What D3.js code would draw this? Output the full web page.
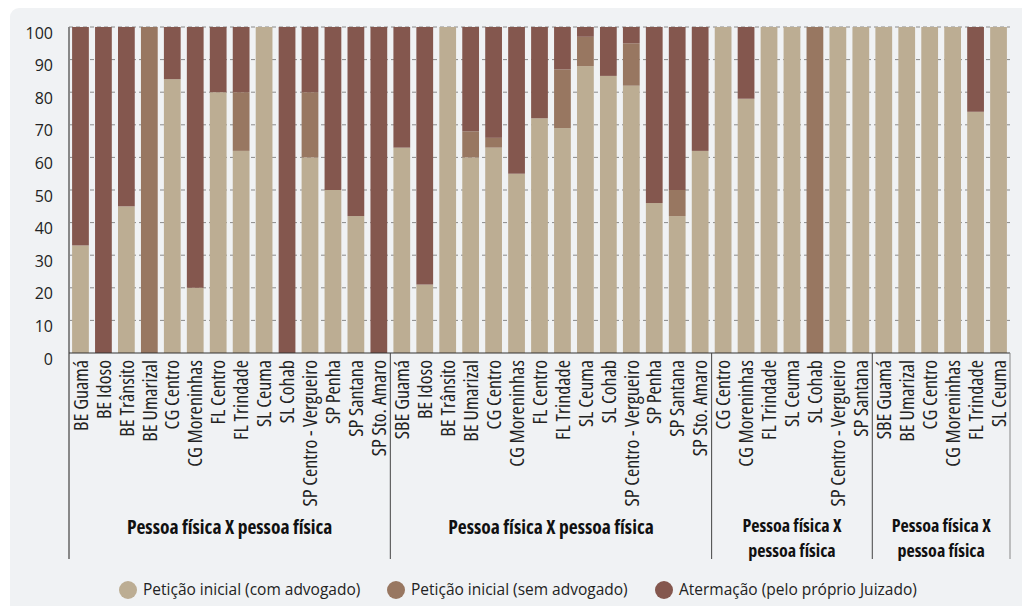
<!DOCTYPE html>
<html>
<head>
<meta charset="utf-8">
<script src="https://cdn.jsdelivr.net/npm/d3@7"></script>
<style>
  html, body { margin: 0; padding: 0; background: #ffffff; }
  svg { display: block; }
  .cond { font-family: "Open Sans", "Noto Sans", sans-serif; font-stretch: condensed; }
</style>
</head>
<body>
<svg id="chart" width="1022" height="606"></svg>
<script>
// ---- data ----
const groupLines = [
  ["Pessoa física X pessoa física"],
  ["Pessoa física X pessoa física"],
  ["Pessoa física X", "pessoa física"],
  ["Pessoa física X", "pessoa física"]
];
const group1 = ["BE Guamá","BE Idoso","BE Trânsito","BE Umarizal","CG Centro","CG Moreninhas","FL Centro","FL Trindade","SL Ceuma","SL Cohab","SP Centro - Vergueiro","SP Penha","SP Santana","SP Sto. Amaro"];
const group2 = ["SBE Guamá","BE Idoso","BE Trânsito","BE Umarizal","CG Centro","CG Moreninhas","FL Centro","FL Trindade","SL Ceuma","SL Cohab","SP Centro - Vergueiro","SP Penha","SP Santana","SP Sto. Amaro"];
const group3 = ["CG Centro","CG Moreninhas","FL Trindade","SL Ceuma","SL Cohab","SP Centro - Vergueiro","SP Santana"];
const group4 = ["SBE Guamá","BE Umarizal","CG Centro","CG Moreninhas","FL Trindade","SL Ceuma"];

const comAdvogado = [33,0,45,0,84,20,80,62,100,0,60,50,42,0,
                     63,21,100,60,63,55,72,69,88,85,82,46,42,62,
                     100,78,100,100,0,100,100,
                     100,100,100,100,74,100];
const semAdvogado = [0,0,0,100,0,0,0,18,0,0,20,0,0,0,
                     0,0,0,8,3,0,0,18,9,0,13,0,8,0,
                     0,0,0,0,100,0,0,
                     0,0,0,0,0,0];
const atermacao   = [67,100,55,0,16,80,20,20,0,100,20,50,58,100,
                     37,79,0,32,34,45,28,13,3,15,5,54,50,38,
                     0,22,0,0,0,0,0,
                     0,0,0,0,26,0];
const seriesNames = ["Petição inicial (com advogado)","Petição inicial (sem advogado)","Atermação (pelo próprio Juizado)"];
const seriesColors = ["#BCAD93","#987761","#84574E"];
const yTicks = [0,10,20,30,40,50,60,70,80,90,100];

// ---- build ----
const groups = [group1, group2, group3, group4];
const rows = [];
groups.forEach((g, gi) => g.forEach(c => rows.push({group: gi, cat: c})));
rows.forEach((r, i) => {
  r.key = i;
  r.v = [comAdvogado[i], semAdvogado[i], atermacao[i]];
});

const svg = d3.select("#chart");
const W = 1022, H = 606;
const mLeft = 69, mRight = 1010, mTop = 27, mBottom = 353;

// panel
svg.append("rect").attr("x", 10).attr("y", 8).attr("width", W + 20).attr("height", H + 20)
  .attr("rx", 9).attr("fill", "#F0F2F4");

const x = d3.scaleBand().domain(rows.map(r => r.key)).range([mLeft, mRight]).paddingInner(0.27).paddingOuter(0.135);
const y = d3.scaleLinear().domain([0, 100]).range([mBottom, mTop]);

// grid
svg.append("g").selectAll("line").data(yTicks.filter(t => t > 0)).join("line")
  .attr("x1", mLeft).attr("x2", mRight)
  .attr("y1", d => y(d)).attr("y2", d => y(d))
  .attr("stroke", "#8a8a8a").attr("stroke-width", 1).attr("stroke-dasharray", "4,3");

// stacks
const stackData = rows.map(r => ({key: r.key, s0: r.v[0], s1: r.v[1], s2: r.v[2]}));
const stack = d3.stack().keys(["s0","s1","s2"])(stackData);
svg.append("g").selectAll("g").data(stack).join("g")
  .attr("fill", (d, i) => seriesColors[i])
  .selectAll("rect").data(d => d.filter(e => e[1] - e[0] > 0)).join("rect")
  .attr("x", d => x(d.data.key))
  .attr("width", x.bandwidth())
  .attr("y", d => y(d[1]))
  .attr("height", d => y(d[0]) - y(d[1]));

// y tick labels
svg.append("g").selectAll("text").data(yTicks).join("text")
  .attr("x", 53).attr("y", d => y(d) + 6).attr("dy", "0.35em")
  .attr("text-anchor", "end")
  .attr("font-family", "'Open Sans', sans-serif").attr("font-size", 16)
  .attr("fill", "#222").text(d => d);

// axis lines
const sepBottom = 559;
svg.append("line").attr("x1", mLeft).attr("x2", mLeft).attr("y1", mTop).attr("y2", sepBottom)
  .attr("stroke", "#888").attr("stroke-width", 2);
svg.append("line").attr("x1", mLeft).attr("x2", mRight).attr("y1", mBottom).attr("y2", mBottom)
  .attr("stroke", "#333").attr("stroke-width", 1.2);

// group separators
let idx = 0;
const bounds = [];
groups.forEach((g, gi) => {
  const first = rows[idx].key, last = rows[idx + g.length - 1].key;
  const step = x.step();
  const x0 = x(first) - (step - x.bandwidth()) / 2;
  const x1 = x(last) + x.bandwidth() + (step - x.bandwidth()) / 2;
  bounds.push([x0, x1]);
  idx += g.length;
});
svg.append("g").selectAll("line").data(bounds.map(b => b[1])).join("line")
  .attr("x1", d => d).attr("x2", d => d).attr("y1", mBottom).attr("y2", sepBottom)
  .attr("stroke", (d, i) => i === bounds.length - 1 ? "#888" : "#444").attr("stroke-width", 1);

// category labels
svg.append("g").selectAll("text").data(rows).join("text")
  .attr("class", "cond")
  .attr("transform", d => `translate(${x(d.key) + x.bandwidth() / 2},${mBottom + 7}) rotate(-90)`)
  .attr("dy", "0.36em")
  .attr("text-anchor", "end")
  .attr("font-size", 20)
  .attr("fill", "#222")
  .text(d => d.cat);

// group labels (one text element per line)
const glData = [];
groupLines.forEach((lines, gi) => lines.forEach((t, li) => glData.push({gi, li, t, n: lines.length})));
svg.append("g").selectAll("text").data(glData).join("text")
  .attr("class", "cond")
  .attr("x", d => (bounds[d.gi][0] + bounds[d.gi][1]) / 2)
  .attr("y", d => d.n === 1 ? 527 : 526 + d.li * 24.5)
  .attr("dy", "0.35em")
  .attr("text-anchor", "middle")
  .attr("font-size", d => d.n === 1 ? 19.5 : 18).attr("font-weight", "bold").attr("fill", "#111")
  .text(d => d.t);

// legend
const legX = [128, 396, 664];
const leg = svg.append("g").selectAll("g").data(seriesNames).join("g")
  .attr("transform", (d, i) => `translate(${legX[i]},590)`);
leg.append("circle").attr("r", 9).attr("fill", (d, i) => seriesColors[i]);
leg.append("text").attr("x", 15).attr("dy", "0.35em")
  .attr("font-family", "'Open Sans', sans-serif").attr("font-size", 15.5).attr("fill", "#222")
  .text(d => d);
</script>
</body>
</html>
